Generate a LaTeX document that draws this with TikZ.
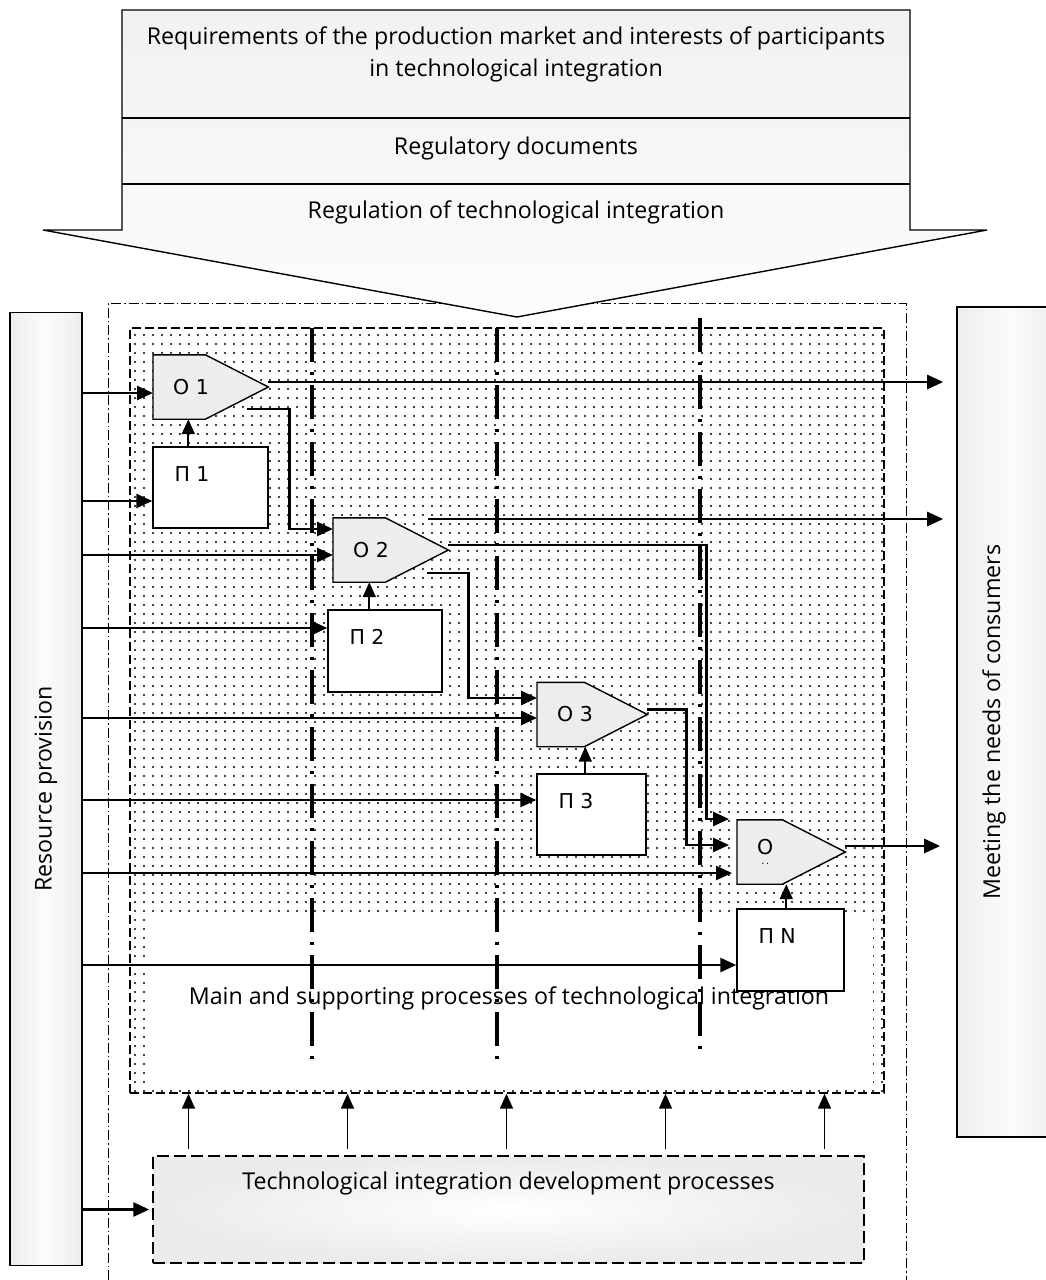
\documentclass[tikz,border=0pt]{standalone}
\usepackage{fontspec}
\setmainfont{Open Sans}
\newfontfamily\blockfont{DejaVu Sans}
\usetikzlibrary{arrows.meta, positioning, calc, patterns.meta}

\newcommand{\opblock}[4]{%
  % pentagon block: name, west point, width, label
  \node[opspace, minimum width=#3] (#1) at (#2) {};
  \draw[opshape] (#1.north west) -- ([xshift=-63pt]#1.north east) -- (#1.east)
    -- ([xshift=-63pt]#1.south east) -- (#1.south west) -- cycle;
  \node[oplabel] (#1t) at ([xshift=20pt]#1.west) {#4};
}

\begin{document}
\begin{tikzpicture}[
    x=1pt, y=-1pt,
    font=\fontsize{23.2}{32}\selectfont,
    opspace/.style={rectangle, anchor=west, minimum height=64pt, inner sep=0pt},
    opshape/.style={draw, line width=1.4pt, top color=gray!13, middle color=white, bottom color=gray!15},
    oplabel/.style={anchor=west, inner sep=0pt, align=center, font=\blockfont\fontsize{20.5}{22}\selectfont},
    pbox/.style={rectangle, draw, line width=1.4pt, fill=white, inner sep=0pt},
    plabel/.style={anchor=north west, inner sep=0pt, xshift=22pt, yshift=-20pt, font=\blockfont\fontsize{20.5}{22}\selectfont},
    sidebox/.style={rectangle, draw, line width=1.6pt, left color=gray!14, right color=gray!14, middle color=gray!3, inner sep=0pt},
    core/.style={rectangle, draw, line width=1.4pt, dash pattern=on 9pt off 4pt,
      pattern={Dots[distance=9pt, radius=1.2pt]}, pattern color=black, inner sep=0pt},
    zone/.style={rectangle, fill=white, inner sep=0pt},
    devbox/.style={rectangle, draw, line width=1.4pt, dash pattern=on 12pt off 5pt,
      inner color=white, outer color=gray!16, inner sep=0pt},
    banner/.style={draw, line width=1.4pt, top color=gray!11, bottom color=gray!2},
    frame/.style={line width=1pt, dash pattern=on 10pt off 3pt on 1.5pt off 3pt},
    divider/.style={line width=3.5pt, dash pattern=on 34pt off 10pt on 3pt off 10pt},
    arrow/.style={line width=2.6pt, -{Triangle[length=16pt,width=14pt]}},
    uparrow/.style={line width=1.8pt, -{Triangle[length=15pt,width=13pt]}}
  ]
  \useasboundingbox (0,0) rectangle (1046,1280);

  % outer frame and the process field
  \draw[frame] (108,1280) -- (108,303) -- (906,303) -- (906,1280);
  \node[core, minimum width=754pt, minimum height=765pt] (core) at (507,710.5) {};
  \node[zone, minimum width=728pt, minimum height=173pt] (zone) at (509,998)
    {Main and supporting processes of technological integration};

  % stage dividers
  \draw[divider] (312,328) -- (312,1062);
  \draw[divider] (497,328) -- (497,1062);
  \draw[divider] (700,318) -- (700,1052);

  % side boxes
  \node[sidebox, minimum width=72pt, minimum height=953pt] (res) at (46,789)
    {\rotatebox{90}{Resource provision}};
  \node[sidebox, minimum width=103pt, minimum height=830pt,
    label={[xshift=-14.5pt]center:\rotatebox{90}{Meeting the needs of consumers}}] (cons) at (1008.5,722) {};

  % regulation arrow
  \draw[banner] (122,10) -- (910,10) -- (910,230) -- (987,230) -- (517,317)
    -- (43,230) -- (122,230) -- cycle;
  \draw[line width=1.4pt] (122,118) -- (910,118);
  \draw[line width=1.4pt] (122,184) -- (910,184);
  \node[align=center] (req) at (516,54)
    {Requirements of the production market and interests of participants\\in technological integration};
  \node (regdoc) at (516,148) {Regulatory documents};
  \node (regint) at (516,212) {Regulation of technological integration};

  % operations and processes
  \opblock{o1}{153,387}{115pt}{O 1}
  \opblock{o2}{333,550}{115pt}{O 2}
  \opblock{o3}{537,714.5}{110pt}{O 3}
  \opblock{on}{737,852}{108pt}{O\\[-12pt]{\fontsize{10}{10}\selectfont .\,.}}

  \node[pbox, minimum width=115pt, minimum height=81pt, label={[plabel]north west:П 1}] (p1) at (210.5,487.5) {};
  \node[pbox, minimum width=114pt, minimum height=82pt, label={[plabel]north west:П 2}] (p2) at (385,651) {};
  \node[pbox, minimum width=109pt, minimum height=81pt, label={[plabel]north west:П 3}] (p3) at (591.5,814.5) {};
  \node[pbox, minimum width=107pt, minimum height=82pt, label={[plabel]north west:П N}] (pn) at (790.5,950) {};

  % resources in
  \foreach \blk/\dy/\gap in {o1/-6/0, p1/-13.5/0, o2/-5/0, p2/23/0, o3/-3.5/0, p3/14.5/0, on/-21/5, pn/-15/0}
    \draw[arrow, shorten >=\gap pt] ([yshift=\dy pt]\blk.west -| res.east) -- ([yshift=\dy pt]\blk.west);

  % process feeds its operation
  \foreach \blk/\dx in {1/36, 2/42, 3/49, n/50}
    \draw[uparrow] ([xshift=\dx pt]p\blk.north west) -- ([xshift=\dx pt]p\blk.north west |- o\blk.south);

  % chain between operations
  \draw[arrow] ([xshift=-21pt,yshift=-22pt]o1.east) -- ++(42,0) |- ([yshift=21pt]o2.west);
  \draw[arrow] ([xshift=-21pt,yshift=-23pt]o2.east) -- ++(41,0) |- ([yshift=16.5pt]o3.west);
  \draw[arrow, shorten >=8pt] ([yshift=5pt]o2.east) -- ++(258,0) |- ([yshift=33pt]on.west);
  \draw[arrow, shorten >=8pt] ([yshift=5pt]o3.east) -- ++(39,0) |- ([yshift=7pt]on.west);

  % outputs to consumers
  \draw[arrow, shorten >=13pt] ([yshift=5pt]o1.east) -- ([yshift=5pt]o1.east -| cons.west);
  \draw[arrow, shorten >=13pt] ([xshift=-20pt,yshift=31pt]o2.east) -- ([yshift=31pt]o2.east -| cons.west);
  \draw[arrow, shorten >=16pt] ([yshift=6pt]on.east) -- ([yshift=6pt]on.east -| cons.west);

  % development processes
  \node[devbox, minimum width=711pt, minimum height=107pt,
    label={[anchor=north, inner sep=0pt, yshift=-16pt]north:Technological integration development processes}] (dev) at (508.5,1209.5) {};
  \draw[arrow, shorten >=3pt] (dev.west -| res.east) -- (dev.west);
  \foreach \dx in {-320,-161,-2,157,316}
    \draw[uparrow] ([xshift=\dx pt, yshift=6pt]dev.north) -- ([xshift=\dx pt]dev.north |- core.south);
\end{tikzpicture}
\end{document}
